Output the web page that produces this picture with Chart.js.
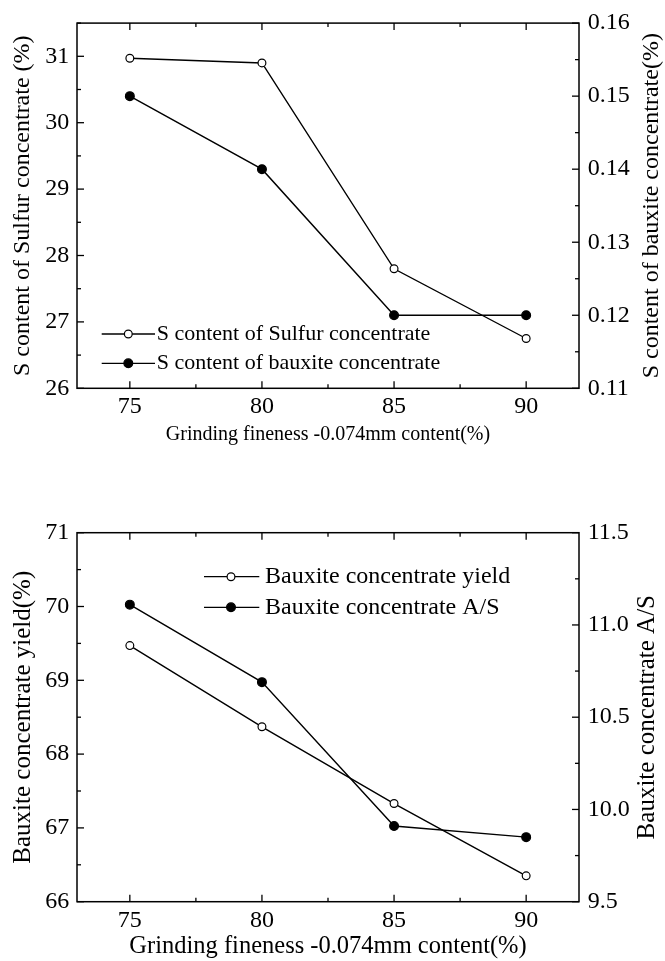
<!DOCTYPE html>
<html>
<head>
<meta charset="utf-8">
<script src="https://cdn.jsdelivr.net/npm/chart.js@4"></script>
<style>
  body { margin: 0; background: #fff; }
  .box { position: absolute; left: 0; width: 665px; }
  #boxTop { top: 0; height: 480px; }
  #boxBottom { top: 480px; height: 481px; }
</style>
</head>
<body>
<div class="box" id="boxTop"><canvas id="chartSulfur"></canvas></div>
<div class="box" id="boxBottom"><canvas id="chartBauxite"></canvas></div>
<script>
// values
const fineness = [75, 80, 85, 90];
const sulfurConcS = [30.97, 30.9, 27.8, 26.75];
const bauxiteConcS = [0.15, 0.14, 0.12, 0.12];
const bauxiteYield = [69.47, 68.37, 67.33, 66.35];
const bauxiteAS = [11.11, 10.69, 9.91, 9.85];

const xTickValues = [75, 77.5, 80, 82.5, 85, 87.5, 90];

const SERIF = "'Liberation Serif', 'Times New Roman', serif";
Chart.defaults.font.family = SERIF;
Chart.defaults.color = '#000';

function toPoints(ys) {
  return fineness.map((x, i) => ({ x, y: ys[i] }));
}

function line(ctx, x1, y1, x2, y2) {
  ctx.beginPath();
  ctx.moveTo(x1, y1);
  ctx.lineTo(x2, y2);
  ctx.stroke();
}

// inward tick marks on all four sides + frame
const frameTicks = {
  id: 'frameTicks',
  afterDatasetsDraw(chart) {
    const { ctx, chartArea: a, scales } = chart;
    ctx.save();
    ctx.strokeStyle = '#000';
    ctx.lineWidth = 1.3;
    scales.x.ticks.forEach(t => {
      const px = scales.x.getPixelForValue(t.value);
      const len = t.label !== '' ? 7 : 4;
      line(ctx, px, a.bottom, px, a.bottom - len);
      line(ctx, px, a.top, px, a.top + len);
    });
    [scales.yLeft, scales.yRight].forEach(s => {
      const edge = s.position === 'left' ? a.left : a.right;
      const dir = s.position === 'left' ? 1 : -1;
      s.ticks.forEach(t => {
        const py = s.getPixelForValue(t.value);
        const len = t.label !== '' ? 7 : 4;
        line(ctx, edge, py, edge + dir * len, py);
      });
    });
    ctx.lineWidth = 1.5;
    ctx.strokeRect(a.left, a.top, a.width, a.height);
    ctx.restore();
  }
};

// legend drawn as line-marker-line followed by text
const lineLegend = {
  id: 'lineLegend',
  afterDraw(chart, args, opts) {
    const { ctx } = chart;
    ctx.save();
    ctx.font = `${opts.size}px ${SERIF}`;
    ctx.textBaseline = 'middle';
    chart.data.datasets.forEach((ds, i) => {
      const y = opts.rows[i];
      ctx.strokeStyle = '#000';
      ctx.lineWidth = 1.3;
      line(ctx, opts.x0, y, opts.x1, y);
      ctx.beginPath();
      ctx.arc(opts.mark, y, ds.pointRadius, 0, Math.PI * 2);
      ctx.fillStyle = ds.pointBackgroundColor;
      ctx.fill();
      ctx.lineWidth = ds.pointBorderWidth;
      ctx.stroke();
      ctx.fillStyle = '#000';
      ctx.fillText(ds.label, opts.textX, y);
    });
    ctx.restore();
  }
};

// right axis title reads bottom-to-top like the left one
const rightTitle = {
  id: 'rightTitle',
  afterDraw(chart, args, opts) {
    const { ctx, chartArea: a } = chart;
    ctx.save();
    ctx.translate(opts.x, (a.top + a.bottom) / 2);
    ctx.rotate(-Math.PI / 2);
    ctx.font = `${opts.size}px ${SERIF}`;
    ctx.fillStyle = '#000';
    ctx.textAlign = 'center';
    ctx.textBaseline = 'middle';
    ctx.fillText(opts.text, 0, 0);
    ctx.restore();
  }
};

function xAxis(height, titleSize, titlePad) {
  return {
    type: 'linear',
    position: 'bottom',
    min: 73,
    max: 92,
    afterBuildTicks: s => { s.ticks = xTickValues.map(v => ({ value: v })); },
    afterFit: s => { s.height = height; },
    grid: { display: false, drawTicks: false },
    border: { display: false },
    ticks: {
      autoSkip: false,
      maxRotation: 0,
      padding: 4.5,
      font: { size: 24 },
      callback: v => (v % 5 === 0 ? v : '')
    },
    title: {
      display: true,
      text: 'Grinding fineness -0.074mm content(%)',
      font: { size: titleSize },
      padding: { top: 0, bottom: titlePad }
    }
  };
}

function yAxis(position, min, max, step, label, title, titleSize) {
  return {
    type: 'linear',
    position,
    min,
    max,
    afterFit: s => { s.width = position === 'left' ? 77 : 86; },
    grid: { display: false, drawTicks: false },
    border: { display: false },
    ticks: {
      stepSize: step,
      padding: position === 'left' ? 7.7 : 8.7,
      font: { size: 24 },
      callback: label
    },
    title: {
      display: position === 'left',
      text: title,
      font: { size: titleSize },
      padding: { top: 8.6, bottom: 0 }
    }
  };
}

function dataset(label, ys, axis, filled) {
  return {
    label,
    data: toPoints(ys),
    yAxisID: axis,
    borderColor: '#000',
    borderWidth: 1.4,
    pointRadius: filled ? 4.4 : 3.9,
    pointBackgroundColor: filled ? '#000' : '#fff',
    pointBorderColor: '#000',
    pointBorderWidth: 1.2,
    tension: 0
  };
}

new Chart(document.getElementById('chartSulfur'), {
  type: 'line',
  data: {
    datasets: [
      dataset('S content of Sulfur concentrate', sulfurConcS, 'yLeft', false),
      dataset('S content of bauxite concentrate', bauxiteConcS, 'yRight', true)
    ]
  },
  options: {
    animation: false,
    responsive: true,
    maintainAspectRatio: false,
    layout: { padding: { top: 18.3, left: 0, right: 0, bottom: 0 } },
    scales: {
      x: xAxis(91.7, 20, 33),
      yLeft: yAxis('left', 26, 31.5, 0.5, v => (Number.isInteger(v) ? v : ''),
        'S content of Sulfur concentrate (%)', 24),
      yRight: yAxis('right', 0.11, 0.16, 0.005,
        v => (Math.round(v * 1000) % 10 === 0 ? v.toFixed(2) : ''), '', 24)
    },
    plugins: {
      legend: { display: false },
      tooltip: { enabled: false },
      lineLegend: { x0: 101.7, x1: 155, mark: 128.3, textX: 156.7, rows: [334, 363.3], size: 22 },
      rightTitle: { text: 'S content of bauxite concentrate(%)', x: 652, size: 24 }
    }
  },
  plugins: [frameTicks, lineLegend, rightTitle]
});

new Chart(document.getElementById('chartBauxite'), {
  type: 'line',
  data: {
    datasets: [
      dataset('Bauxite concentrate yield', bauxiteYield, 'yLeft', false),
      dataset('Bauxite concentrate A/S', bauxiteAS, 'yRight', true)
    ]
  },
  options: {
    animation: false,
    responsive: true,
    maintainAspectRatio: false,
    layout: { padding: { top: 52.7, left: 0, right: 0, bottom: 0 } },
    scales: {
      x: xAxis(59.3, 24.5, 0),
      yLeft: yAxis('left', 66, 71, 0.5, v => (Number.isInteger(v) ? v : ''),
        'Bauxite concentrate yield(%)', 25),
      yRight: yAxis('right', 9.5, 11.5, 0.25,
        v => (Math.round(v * 100) % 50 === 0 ? v.toFixed(1) : ''), '', 25)
    },
    plugins: {
      legend: { display: false },
      tooltip: { enabled: false },
      lineLegend: { x0: 204, x1: 259.3, mark: 231, textX: 265, rows: [96.7, 127.3], size: 24 },
      rightTitle: { text: 'Bauxite concentrate A/S', x: 647, size: 25 }
    }
  },
  plugins: [frameTicks, lineLegend, rightTitle]
});
</script>
</body>
</html>
